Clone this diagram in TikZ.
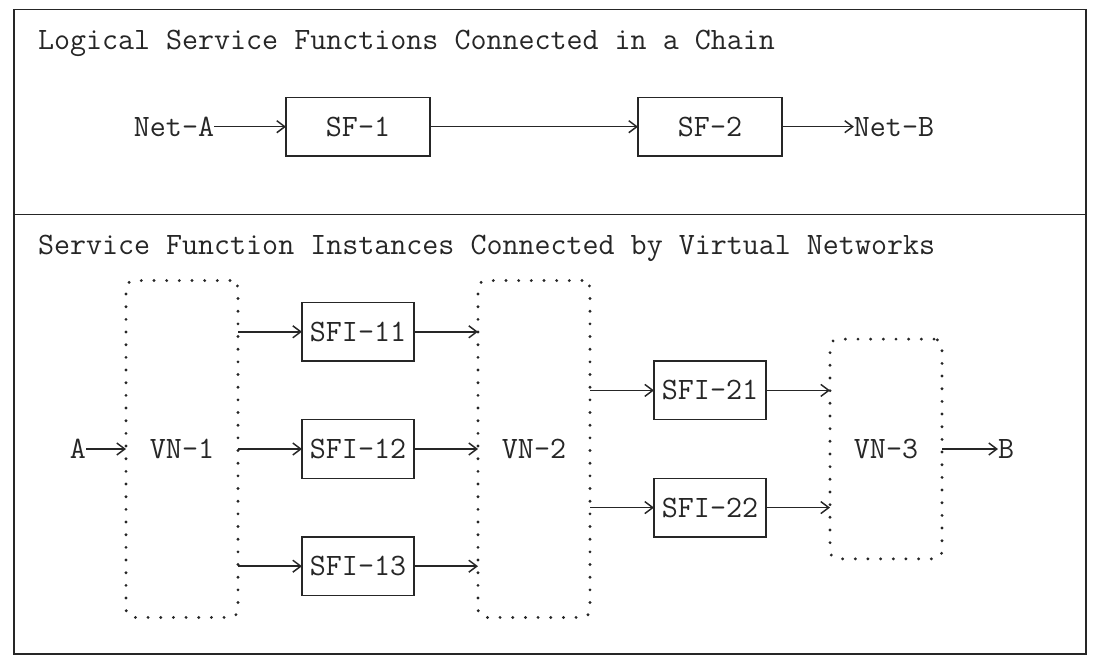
\documentclass[tikz,border=0pt]{standalone}
\usepackage{fontspec}
\usetikzlibrary{arrows.meta}
\begin{document}
\begin{tikzpicture}[x=12pt, y=-21.975pt,
  txt/.style={font=\ttfamily\fontsize{23.33pt}{27pt}\selectfont, text=black!85, inner sep=0pt, outer sep=0pt, text height=14.2pt, text depth=0pt},
  box/.style={txt, draw=black!85, line width=1.1pt, minimum height=43.95pt},
  vnbox/.style={txt, draw=black!85, line width=2.4pt, dash pattern=on 0pt off 9.5pt, line cap=round, rounded corners=6pt, minimum width=84pt},
  arr/.style={draw=black!85, line width=1.1pt, -{Straight Barb[length=6pt,width=9pt]}},
  frame/.style={draw=black!85, line width=1.1pt}]

\useasboundingbox (-0.875,-0.3242) rectangle (67.4375,22.2014);

% outer frame and divider
\coordinate (tl) at (0,0);
\coordinate (br) at (67,22);
\coordinate (dl) at (0,7);
\coordinate (dr) at (67,7);
\draw[frame] (tl) rectangle (br);
\draw[frame] (dl) -- (dr);

% titles
\node[txt, anchor=west] (t1) at (1.5,1.03) {Logical Service Functions Connected in a Chain};
\node[txt, anchor=west] (t2) at (1.5,8.03) {Service Function Instances Connected by Virtual Networks};

% logical chain
\node[txt] (neta) at (10,4) {Net-A};
\node[box, minimum width=108pt] (sf1) at (21.5,4) {SF-1};
\node[box, minimum width=108pt] (sf2) at (43.5,4) {SF-2};
\node[txt] (netb) at (55,4) {Net-B};
\draw[arr] (neta) -- (sf1);
\draw[arr] (sf1) -- (sf2);
\draw[arr] (sf2) -- (netb);

% virtual networks
\node[vnbox, minimum height=252.7pt] (vn1) at (10.5,15) {VN-1};
\node[vnbox, minimum height=252.7pt] (vn2) at (32.5,15) {VN-2};
\node[vnbox, minimum height=164.8pt] (vn3) at (54.5,15) {VN-3};

% service function instances
\node[box, minimum width=84pt] (s11) at (21.5,11) {SFI-11};
\node[box, minimum width=84pt] (s12) at (21.5,15) {SFI-12};
\node[box, minimum width=84pt] (s13) at (21.5,19) {SFI-13};
\node[box, minimum width=84pt] (s21) at (43.5,13) {SFI-21};
\node[box, minimum width=84pt] (s22) at (43.5,17) {SFI-22};

% endpoints
\node[txt] (a) at (4,15) {A};
\node[txt] (b) at (62,15) {B};

% connectors
\draw[arr] (a) -- (vn1.west |- a);
\foreach \s in {s11,s12,s13}{
  \draw[arr] (vn1.east |- \s) -- (\s);
  \draw[arr] (\s) -- (vn2.west |- \s);
}
\foreach \s in {s21,s22}{
  \draw[arr] (vn2.east |- \s) -- (\s);
  \draw[arr] (\s) -- (vn3.west |- \s);
}
\draw[arr] (vn3.east |- b) -- (b);
\end{tikzpicture}
\end{document}
